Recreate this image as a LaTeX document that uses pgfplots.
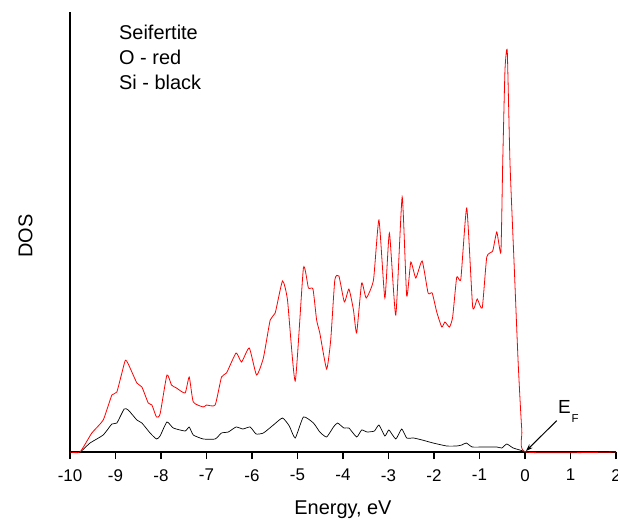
\documentclass[border=0pt]{standalone}
\usepackage{fontspec}
\setmainfont{Liberation Sans}
\usepackage{pgfplots}
\pgfplotsset{compat=1.18}
\usetikzlibrary{arrows.meta}

\begin{document}
\begin{tikzpicture}
\begin{axis}[
  scale only axis, width=546bp, height=440bp,
  xmin=-10, xmax=2, ymin=0, ymax=440,
  axis lines*=left,
  axis line style={line width=1.3bp, black},
  xtick={-10,-9,-8,-7,-6,-5,-4,-3,-2,-1,0,1,2}, ytick=\empty,
  tick align=outside, major tick length=7bp,
  every tick/.style={line width=1.3bp, black},
  xticklabel style={font=\fontsize{17}{17}\selectfont, inner sep=0pt, anchor=north},
  xticklabel shift=10bp,
  /pgf/number format/assume math mode=true,
  xlabel={Energy, eV}, ylabel={DOS},
  every axis x label/.style={at={(axis description cs:0.5,0)}, anchor=base, yshift=-62bp, inner sep=0pt, font=\fontsize{20}{20}\selectfont},
  every axis y label/.style={at={(axis description cs:0,0.5)}, xshift=-44.5bp, yshift=-4bp, rotate=90, anchor=center, inner sep=0pt, font=\fontsize{20}{20}\selectfont},
  clip=false,
]
\addplot[black, line width=0.7bp, smooth, tension=0.3] coordinates {
(-10,0) (-9.78,0) (-9.56,9) (-9.27,17) (-9.08,28) (-8.97,29) (-8.81,43) (-8.72,42) (-8.53,32) (-8.42,29) (-8.24,19) (-8.10,13) (-8.02,16) (-7.87,30) (-7.73,24) (-7.47,21) (-7.38,25) (-7.29,17) (-7.07,13) (-6.81,13) (-6.67,19) (-6.52,20) (-6.35,25) (-6.20,23) (-6.04,25) (-5.91,18) (-5.75,19) (-5.53,27) (-5.33,34) (-5.18,26) (-5.05,14) (-4.87,35) (-4.65,29) (-4.51,20) (-4.36,15) (-4.21,25) (-4.12,29) (-3.98,24) (-3.87,24) (-3.70,15) (-3.59,22) (-3.47,20) (-3.31,21) (-3.21,27) (-3.08,16) (-2.99,22) (-2.84,13) (-2.71,23) (-2.60,14) (-2.45,14) (-2.26,12) (-2.02,9) (-1.72,6) (-1.50,6) (-1.39,7) (-1.29,9) (-1.16,5) (-0.92,5) (-0.62,5) (-0.51,4) (-0.40,8) (-0.26,4) (-0.04,1) (0,0) (2,0)
};
\addplot[red, line width=0.8bp, smooth, tension=0.3] coordinates {
(-10,0) (-9.78,0) (-9.52,19) (-9.27,32) (-9.08,57) (-8.97,60) (-8.79,91) (-8.72,88) (-8.53,69) (-8.42,65) (-8.28,49) (-8.20,47) (-8.10,35) (-8.02,38) (-7.87,77) (-7.77,67) (-7.66,64) (-7.47,59) (-7.38,75) (-7.29,50) (-7.07,45) (-7.0,47) (-6.81,47) (-6.67,75) (-6.56,79) (-6.35,99) (-6.23,90) (-6.06,104) (-5.90,77) (-5.75,94) (-5.60,132) (-5.49,139) (-5.33,171) (-5.22,152) (-5.05,71) (-4.87,184) (-4.76,164) (-4.66,163) (-4.58,132) (-4.51,119) (-4.36,83) (-4.27,112) (-4.18,172) (-4.09,176) (-3.97,150) (-3.87,163) (-3.77,142) (-3.70,119) (-3.59,169) (-3.49,154) (-3.33,172) (-3.21,232) (-3.08,154) (-2.98,219) (-2.84,137) (-2.70,255) (-2.60,156) (-2.51,190) (-2.40,174) (-2.26,191) (-2.13,159) (-2.04,159) (-1.94,140) (-1.83,125) (-1.76,130) (-1.66,125) (-1.59,135) (-1.50,175) (-1.41,173) (-1.28,244) (-1.15,145) (-1.05,153) (-0.94,144) (-0.84,195) (-0.71,201) (-0.62,220) (-0.53,200) (-0.49,289) (-0.44,382) (-0.39,401) (-0.33,289) (-0.24,189) (-0.15,89) (-0.07,22) (0.02,0) (2,0)
};
\end{axis}
\node[anchor=base west, inner sep=0pt, font=\fontsize{20}{20}\selectfont] at (49bp,412.7bp) {Seifertite};
\node[anchor=base west, inner sep=0pt, font=\fontsize{20}{20}\selectfont] at (49bp,387.7bp) {O - red};
\node[anchor=base west, inner sep=0pt, font=\fontsize{20}{20}\selectfont] at (49bp,362bp) {Si - black};
\draw[-{Stealth[length=7bp,width=5bp]}, line width=1bp] (486.7bp,31.3bp) -- (456bp,1bp);
\node[anchor=base west, inner sep=0pt, font=\fontsize{19}{19}\selectfont] at (488bp,39bp) {E};
\node[anchor=base west, inner sep=0pt, font=\fontsize{11.5}{11.5}\selectfont] at (501.5bp,30bp) {F};
\pgfresetboundingbox
\path (-70bp,-69bp) rectangle (548bp,452bp);
\end{tikzpicture}
\end{document}
